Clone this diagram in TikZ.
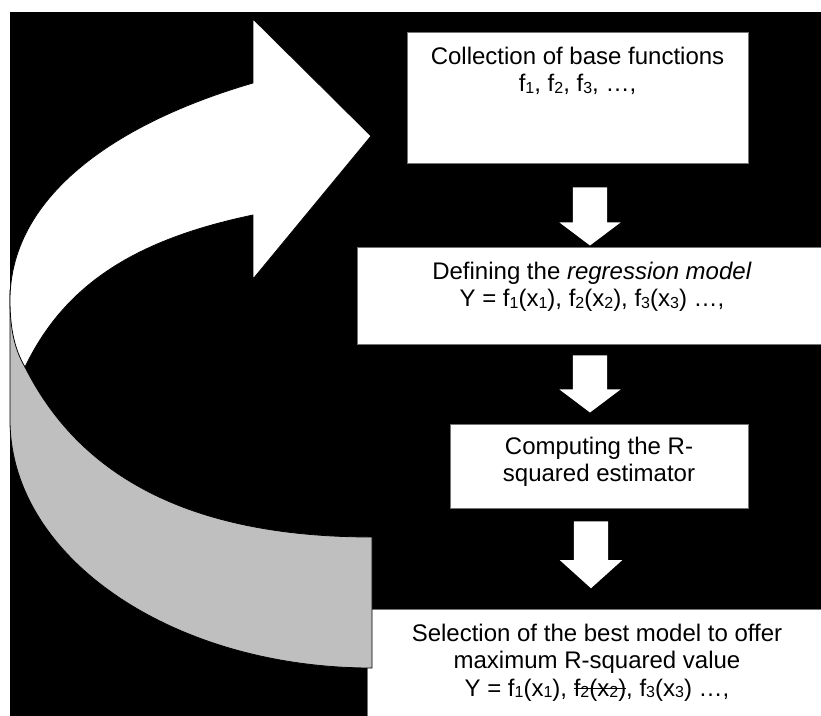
\documentclass[tikz,border=0pt]{standalone}
\usepackage{fontspec}
\setmainfont{Liberation Sans}
\usetikzlibrary{shapes.arrows,positioning}
\newcommand\struck[1]{\setbox0\hbox{#1}\rlap{\raisebox{0.3em}{\rule{\wd0}{0.06em}}}\box0}
\newcommand\sub[1]{\raisebox{-0.06em}{\fontsize{16}{16}\selectfont #1}}
\tikzset{
  stepbox/.style={rectangle, fill=white, draw=black!55, line width=0.6pt, inner sep=0pt},
  boxtext/.style={align=center, inner sep=0pt, font=\fontsize{24}{27.6}\selectfont},
  downarrow/.style={single arrow, fill=white, draw=none, inner sep=17pt,
    shape border rotate=270, single arrow head extend=13.5pt,
    single arrow tip angle=106, minimum width=61pt},
}
\begin{document}
\begin{tikzpicture}[x=1pt,y=-1pt]
    \clip (0,0) rectangle (821,715);
    \fill[black] (10,12) rectangle (830,720);

    \node (b1) at (577.5,97.5) [stepbox, minimum width=341pt, minimum height=131pt] {};
    \node (b2) at (592,295.5) [stepbox, minimum width=470pt, minimum height=97pt] {};
    \node (b3) at (599,466) [stepbox, minimum width=298pt, minimum height=84pt] {};
    \node (b4) at (597,664.5) [stepbox, minimum width=460pt, minimum height=111pt] {};

    \node (t1) [boxtext, below=15pt of b1.north] {Collection of base functions\\
        f\sub{1}, f\sub{2}, f\sub{3}, …,};
    \node (t2) [boxtext, below=15pt of b2.north] {Defining the \textit{regression model}\\
        Y = f\sub{1}(x\sub{1}), f\sub{2}(x\sub{2}), f\sub{3}(x\sub{3}) …,};
    \node (t3) [boxtext, below=13pt of b3.north] {Computing the R-\\ squared estimator};
    \node (t4) [boxtext, below=15pt of b4.north] {Selection of the best model to offer\\
        maximum R-squared value\\
        Y = f\sub{1}(x\sub{1}), \struck{f\sub{2}(x\sub{2})}, f\sub{3}(x\sub{3}) …,};

    \node (a1) at (590,210) [downarrow, minimum height=58pt] {};
    \node (a2) at (590,377.5) [downarrow, minimum height=57pt] {};
    \node (a3) at (591,547) [downarrow, minimum height=67pt, minimum width=62pt,
        single arrow head extend=14pt, single arrow tip angle=96] {};

    % back of the loop arrow
    \filldraw[fill=black!25, draw=black, line width=0.8pt]
        (10,290) -- (10,420) .. controls (10,557) and (172,668) .. (372,668) -- (372,537)
        .. controls (202,537) and (83.5,484) .. (25,367) -- cycle;
    % front of the loop arrow
    \filldraw[fill=white, draw=black, line width=0.8pt]
        (253,215) -- (253,279) -- (371,136) -- (253,19) -- (253,83)
        .. controls (109,125) and (10,200) .. (10,300)
        .. controls (10,330) and (15,350) .. (25,367)
        .. controls (64,286) and (133,240) .. (253,215) -- cycle;
\end{tikzpicture}
\end{document}
